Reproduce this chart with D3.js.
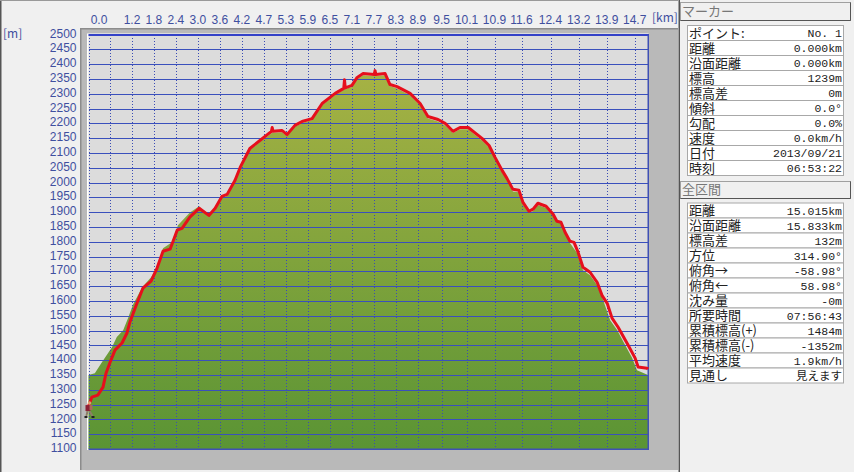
<!DOCTYPE html>
<html>
<head>
<meta charset="utf-8">
<script src="https://d3js.org/d3.v7.min.js"></script>
<style>
  html, body { margin: 0; padding: 0; background: #f0f0f0; overflow: hidden; }
  svg { display: block; }
  text { font-family: "Noto Sans CJK JP", sans-serif; }
  .axis text { font-family: "Liberation Sans", sans-serif; font-size: 12px; fill: #3f4f9f; }
  .axis .domain { display: none; }
  .grid-y line { stroke: #3a50bc; stroke-width: 1; shape-rendering: crispEdges; }
  .grid-x line { stroke: #3a4cb4; stroke-width: 1; stroke-dasharray: 1 2; shape-rendering: crispEdges; }
  .panel-label { font-size: 13px; fill: #222; }
  .panel-value { font-family: "Liberation Mono", "Noto Sans CJK JP", monospace; font-size: 11.5px; fill: #222; text-anchor: end; }
  .panel-title { font-size: 13px; fill: #777; }
</style>
</head>
<body>
<script>
const trackKm = [0, 0.09, 0.25, 0.39, 0.47, 0.58, 0.71, 0.90, 1.03, 1.11, 1.30, 1.46, 1.68, 1.84, 2.00, 2.19, 2.38, 2.51, 2.72, 2.97, 3.23, 3.40, 3.58, 3.72, 3.93, 4.07, 4.33, 4.60, 4.91, 4.93, 4.95, 5.19, 5.33, 5.54, 5.73, 6.00, 6.27, 6.62, 6.85, 6.87, 6.89, 7.07, 7.21, 7.37, 7.67, 7.69, 7.71, 7.96, 8.09, 8.28, 8.63, 8.90, 9.11, 9.38, 9.57, 9.78, 9.97, 10.19, 10.56, 10.75, 10.91, 11.10, 11.23, 11.39, 11.55, 11.66, 11.82, 11.93, 12.06, 12.28, 12.47, 12.57, 12.68, 12.79, 12.92, 13.03, 13.14, 13.27, 13.46, 13.65, 13.78, 13.92, 14.05, 14.21, 14.48, 14.67, 14.75, 14.99, 15.015];
const trackElev = [1245, 1275, 1282, 1309, 1356, 1393, 1434, 1458, 1491, 1528, 1592, 1643, 1667, 1711, 1768, 1775, 1839, 1845, 1883, 1913, 1889, 1913, 1953, 1960, 2007, 2051, 2115, 2142, 2173, 2186, 2173, 2176, 2162, 2193, 2206, 2216, 2267, 2301, 2318, 2347, 2320, 2328, 2355, 2368, 2365, 2378, 2365, 2368, 2331, 2324, 2301, 2267, 2223, 2213, 2200, 2173, 2186, 2186, 2149, 2125, 2085, 2041, 2014, 1977, 1974, 1933, 1903, 1910, 1930, 1920, 1893, 1869, 1866, 1832, 1802, 1798, 1764, 1714, 1697, 1663, 1619, 1592, 1542, 1512, 1451, 1407, 1377, 1373, 1370];

const terrainKm = [0, 0.17, 0.36, 0.63, 0.76, 0.93, 1.06, 1.19, 1.44, 1.68, 1.84, 2.00, 2.24, 2.40, 2.72, 2.97, 3.21, 3.40, 3.58, 3.72, 3.93, 4.07, 4.33, 4.60, 4.93, 5.19, 5.33, 5.54, 5.73, 6.00, 6.27, 6.62, 6.88, 7.07, 7.21, 7.37, 7.69, 7.96, 8.09, 8.28, 8.63, 8.90, 9.11, 9.38, 9.57, 9.78, 9.97, 10.19, 10.56, 10.75, 10.91, 11.10, 11.23, 11.39, 11.55, 11.66, 11.82, 11.93, 12.06, 12.28, 12.47, 12.68, 12.92, 13.14, 13.27, 13.46, 13.65, 13.81, 14.00, 14.19, 14.40, 14.59, 14.72, 15.015];
const terrainElev = [1350, 1356, 1393, 1444, 1478, 1501, 1542, 1586, 1646, 1680, 1714, 1778, 1798, 1856, 1899, 1920, 1886, 1908, 1948, 1955, 2002, 2046, 2110, 2137, 2168, 2170, 2157, 2188, 2201, 2211, 2262, 2296, 2316, 2323, 2350, 2362, 2360, 2362, 2326, 2318, 2295, 2260, 2216, 2206, 2193, 2167, 2180, 2180, 2142, 2118, 2078, 2034, 2007, 1970, 1967, 1926, 1897, 1904, 1924, 1914, 1887, 1860, 1796, 1757, 1704, 1687, 1653, 1603, 1535, 1501, 1451, 1407, 1366, 1350];

const elevTicks = [1100, 1150, 1200, 1250, 1300, 1350, 1400, 1450, 1500, 1550, 1600, 1650, 1700, 1750, 1800, 1850, 1900, 1950, 2000, 2050, 2100, 2150, 2200, 2250, 2300, 2350, 2400, 2450, 2500];
const kmTicks = [0, 0.59, 1.18, 1.77, 2.36, 2.95, 3.54, 4.13, 4.72, 5.31, 5.90, 6.49, 7.08, 7.67, 8.26, 8.85, 9.49, 10.16, 10.91, 11.63, 12.41, 13.17, 13.92, 14.67];
const kmLabels = ["0.0", "", "1.2", "1.8", "2.4", "3.0", "3.6", "4.2", "4.7", "5.3", "5.9", "6.5", "7.1", "7.7", "8.3", "8.9", "9.5", "10.1", "10.9", "11.6", "12.4", "13.2", "13.9", "14.7"];

const markerLabels = ["ポイント:", "距離", "沿面距離", "標高", "標高差", "傾斜", "勾配", "速度", "日付", "時刻"];
const markerValues = ["No. 1", "0.000km", "0.000km", "1239m", "0m", "0.0°", "0.0%", "0.0km/h", "2013/09/21", "06:53:22"];
const summaryLabels = ["距離", "沿面距離", "標高差", "方位", "俯角→", "俯角←", "沈み量", "所要時間", "累積標高(+)", "累積標高(-)", "平均速度", "見通し"];
const summaryValues = ["15.015km", "15.833km", "132m", "314.90°", "-58.98°", "58.98°", "-0m", "07:56:43", "1484m", "-1352m", "1.9km/h", "見えます"];

const width = 854;
const height = 472;
const plot = { left: 88.5, right: 648, top: 34.5, bottom: 449 };

const svg = d3.select("body").append("svg")
  .attr("width", width)
  .attr("height", height);

const defs = svg.append("defs");
const grad = defs.append("linearGradient")
  .attr("id", "terrainFill")
  .attr("gradientUnits", "userSpaceOnUse")
  .attr("x1", 0).attr("x2", 0)
  .attr("y1", 72).attr("y2", plot.bottom);
grad.append("stop").attr("offset", "0%").attr("stop-color", "#a6b244");
grad.append("stop").attr("offset", "100%").attr("stop-color", "#5a9434");

// window chrome
svg.append("rect").attr("width", width).attr("height", height).attr("fill", "#f0f0f0");
svg.append("rect").attr("x", 0).attr("y", 0).attr("width", 1.5).attr("height", height).attr("fill", "#555");
svg.append("rect").attr("x", 0).attr("y", 0).attr("width", 678).attr("height", 1).attr("fill", "#999");
svg.append("rect").attr("x", 80).attr("y", 28).attr("width", 598).attr("height", 442).attr("fill", "#b9b9b9");
svg.append("rect").attr("x", 80).attr("y", 28).attr("width", 598).attr("height", 1.5).attr("fill", "#8c8c8c");
svg.append("rect").attr("x", 80).attr("y", 28).attr("width", 1.5).attr("height", 442).attr("fill", "#8c8c8c");
svg.append("rect").attr("x", 678.5).attr("y", 0).attr("width", 1.5).attr("height", height).attr("fill", "#555");

// plot
const x = d3.scaleLinear().domain([0, 15.015]).range([plot.left, plot.right]);
const y = d3.scaleLinear().domain([1100, 2500]).range([plot.bottom, plot.top]);

svg.append("rect")
  .attr("x", plot.left - 1.5).attr("y", plot.top - 1)
  .attr("width", plot.right - plot.left + 2).attr("height", plot.bottom - plot.top + 2)
  .attr("fill", "#fff");
svg.append("rect")
  .attr("x", plot.left).attr("y", plot.top)
  .attr("width", plot.right - plot.left).attr("height", plot.bottom - plot.top)
  .attr("fill", "#dcdcdc");

const terrain = d3.area()
  .x((d, i) => x(terrainKm[i]))
  .y0(plot.bottom)
  .y1(d => y(d));
svg.append("path")
  .datum(terrainElev)
  .attr("fill", "url(#terrainFill)")
  .attr("d", terrain);

svg.append("g")
  .attr("class", "axis grid-y")
  .attr("transform", `translate(${plot.left},0)`)
  .call(d3.axisLeft(y).tickValues(elevTicks).tickFormat(d3.format("d"))
    .tickSize(-(plot.right - plot.left)).tickPadding(12))
  .selectAll("text")
  .attr("dy", "0.22em");

svg.append("g")
  .attr("class", "axis grid-x")
  .attr("transform", `translate(0,${plot.top})`)
  .call(d3.axisTop(x).tickValues(kmTicks).tickFormat((d, i) => kmLabels[i])
    .tickSize(-(plot.bottom - plot.top)).tickPadding(11))
  .selectAll("text")
  .attr("dx", (d, i) => i === 0 ? 10 : -1);

// heavy frame lines
svg.append("rect")
  .attr("x", plot.left).attr("y", plot.top - 0.5)
  .attr("width", plot.right - plot.left + 1).attr("height", 2).attr("fill", "#3442c8");
svg.append("rect")
  .attr("x", plot.right - 0.5).attr("y", plot.top)
  .attr("width", 1.5).attr("height", plot.bottom - plot.top).attr("fill", "#3f50b4");
svg.append("rect")
  .attr("x", plot.left).attr("y", plot.bottom - 0.5)
  .attr("width", plot.right - plot.left + 1).attr("height", 1.5).attr("fill", "#3f50b4");

const track = d3.line()
  .x((d, i) => x(trackKm[i]))
  .y(d => y(d));
svg.append("path")
  .datum(trackElev)
  .attr("fill", "none")
  .attr("stroke", "#e60f1c")
  .attr("stroke-width", 3)
  .attr("stroke-linejoin", "round")
  .attr("d", track);

// hiker marker at the first track point
const hiker = svg.append("g")
  .attr("transform", `translate(${x(0)},${y(trackElev[0]) - 3})`);
hiker.append("circle").attr("cx", 1).attr("cy", 0).attr("r", 1.8).attr("fill", "#d8a070");
hiker.append("rect").attr("x", -3).attr("y", 2).attr("width", 5).attr("height", 6).attr("fill", "#8c1f35");
hiker.append("rect").attr("x", 1).attr("y", 2).attr("width", 3).attr("height", 5).attr("fill", "#a86b5a");
hiker.append("path").attr("d", "M-1 8L-2 13M1 8L4 13").attr("stroke", "#8d7f66").attr("stroke-width", 2).attr("fill", "none");
hiker.append("path").attr("d", "M-4 14H-1M3 14H6").attr("stroke", "#222").attr("stroke-width", 2).attr("fill", "none");

// unit labels
svg.append("text").attr("x", 3).attr("y", 38)
  .attr("font-family", "Liberation Sans").attr("font-size", 12).attr("fill", "#3f4f9f").text("[m]");
svg.append("text").attr("x", 652).attr("y", 22)
  .attr("font-family", "Liberation Sans").attr("font-size", 12).attr("fill", "#3f4f9f").text("[km]");

// right panel
function panelButton(top, h, label) {
  svg.append("rect").attr("x", 680.5).attr("y", top + 0.5).attr("width", 170).attr("height", h)
    .attr("fill", "#f0f0f0").attr("stroke", "#a0a0a0");
  svg.append("path").attr("d", `M680.5 ${top + h + 0.5}H850.5V${top + 0.5}`)
    .attr("fill", "none").attr("stroke", "#555");
  svg.append("text").attr("class", "panel-title").attr("x", 682).attr("y", top + h - 4).text(label);
}

function panelTable(top, rowH, labels, values) {
  const rows = d3.scaleBand()
    .domain(d3.range(labels.length))
    .range([top, top + rowH * labels.length]);
  const g = svg.append("g");
  g.selectAll("rect")
    .data(labels)
    .join("rect")
    .attr("x", 687.5)
    .attr("y", (d, i) => rows(i) + 0.5)
    .attr("width", 156)
    .attr("height", rows.bandwidth())
    .attr("fill", "#fff")
    .attr("stroke", "#a8a8a8");
  g.selectAll(".panel-label")
    .data(labels)
    .join("text")
    .attr("class", "panel-label")
    .attr("x", 689)
    .attr("y", (d, i) => rows(i) + rows.bandwidth() / 2 + 5)
    .text(d => d);
  g.selectAll(".panel-value")
    .data(values)
    .join("text")
    .attr("class", "panel-value")
    .attr("x", 842)
    .attr("y", (d, i) => rows(i) + rows.bandwidth() / 2 + 4.5)
    .text(d => d);
}

panelButton(2, 18, "マーカー");
panelTable(25, 15, markerLabels, markerValues);
panelButton(181, 17, "全区間");
panelTable(202.5, 15, summaryLabels, summaryValues);
</script>
</body>
</html>
